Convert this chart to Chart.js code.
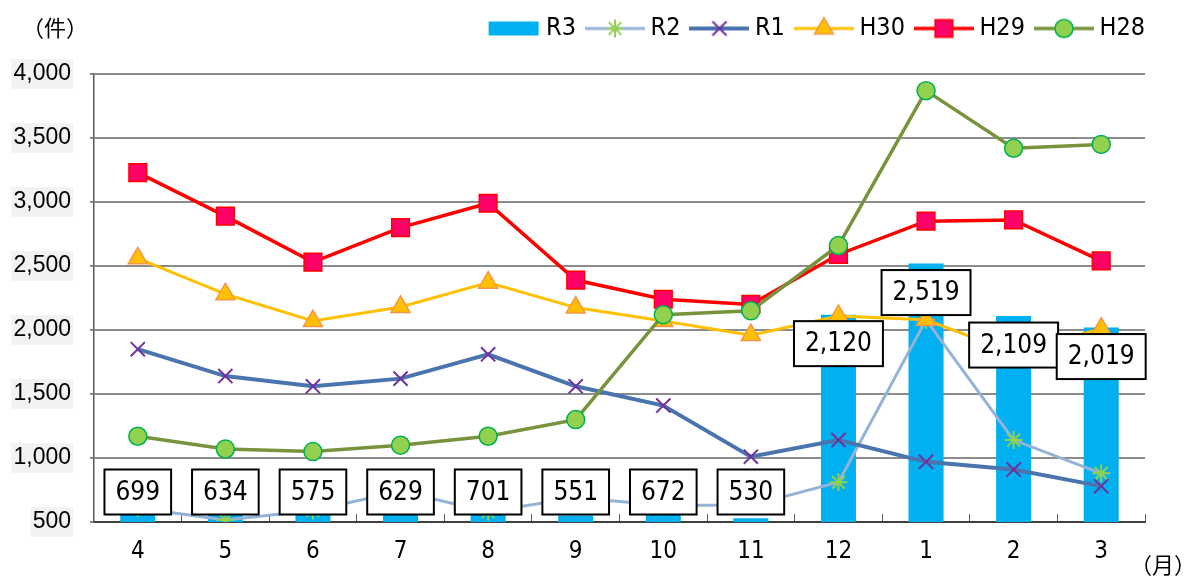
<!DOCTYPE html>
<html>
<head>
<meta charset="utf-8">
<script src="https://cdn.jsdelivr.net/npm/chart.js@4.4.1/dist/chart.umd.min.js"></script>
<style>
  html, body { margin: 0; background: #fff; }
  #wrap { position: relative; width: 1192px; height: 580px; }
</style>
</head>
<body>
<div id="wrap"><canvas id="chart" width="1192" height="580"></canvas></div>
<script>
// months (April -> March)
const months = ["4", "5", "6", "7", "8", "9", "10", "11", "12", "1", "2", "3"];

// yearly series
const r3 = [699, 634, 575, 629, 701, 551, 672, 530, 2120, 2519, 2109, 2019];
const r2 = [610, 515, 590, 740, 580, 690, 630, 630, 810, 2080, 1140, 880];
const r1 = [1850, 1640, 1560, 1620, 1810, 1560, 1410, 1010, 1140, 970, 910, 780];
const h30 = [2560, 2280, 2070, 2180, 2370, 2175, 2070, 1960, 2110, 2080, 1820, 2010];
const h29 = [3230, 2890, 2530, 2800, 2990, 2390, 2240, 2200, 2590, 2850, 2860, 2540];
const h28 = [1170, 1070, 1050, 1100, 1170, 1300, 2120, 2150, 2660, 3870, 3420, 3450];

// y axis
const yMin = 500;
const yMax = 4000;
const yStep = 500;

const narrowFont = '"Liberation Sans Narrow", "DejaVu Sans Condensed", sans-serif';

// legend icon: line with marker in the middle
const makeLegendIcon = (ds) => {
  const c = document.createElement("canvas");
  c.width = 60;
  c.height = 26;
  const ctx = c.getContext("2d");
  if (ds.type === "bar") {
    ctx.fillStyle = ds.backgroundColor;
    ctx.fillRect(8, 6, 50, 14);
    return c;
  }
  ctx.strokeStyle = ds.borderColor;
  ctx.lineWidth = ds.borderWidth;
  ctx.beginPath();
  ctx.moveTo(0, 13);
  ctx.lineTo(60, 13);
  ctx.stroke();
  ctx.fillStyle = ds.pointBackgroundColor;
  ctx.strokeStyle = ds.pointBorderColor;
  ctx.lineWidth = ds.pointBorderWidth;
  Chart.helpers.drawPoint(ctx, {
    pointStyle: ds.pointStyle,
    radius: ds.pointRadius,
    borderWidth: ds.pointBorderWidth,
    rotation: 0,
  }, 30, 13);
  return c;
};

// value boxes on the bars
const barLabels = {
  id: "barLabels",
  afterDraw(chart) {
    const meta = chart.getDatasetMeta(0);
    const ctx = chart.ctx;
    const area = chart.chartArea;
    ctx.save();
    ctx.font = "26px " + narrowFont;
    ctx.textAlign = "center";
    ctx.textBaseline = "middle";
    meta.data.forEach((bar, i) => {
      const text = r3[i].toLocaleString("en-US");
      const w = ctx.measureText(text).width + 22;
      const h = 45;
      const cy = Math.min(bar.y + 29, area.bottom - 30);
      ctx.fillStyle = "#fff";
      ctx.fillRect(bar.x - w / 2, cy - h / 2, w, h);
      ctx.strokeStyle = "#000";
      ctx.lineWidth = 2;
      ctx.strokeRect(bar.x - w / 2, cy - h / 2, w, h);
      ctx.fillStyle = "#000";
      ctx.fillText(text, bar.x, cy + 1);
    });
    ctx.restore();
  },
};

// unit captions
const unitText = {
  id: "unitText",
  afterDraw(chart) {
    const ctx = chart.ctx;
    ctx.save();
    ctx.font = '22px "Noto Sans CJK JP", sans-serif';
    ctx.fillStyle = "#000";
    ctx.textBaseline = "middle";
    ctx.textAlign = "left";
    ctx.fillText("（件）", 22, 28);
    ctx.fillText("（月）", 1130, 565);
    ctx.restore();
  },
};

// extra space under the legend, and push the legend row to the right edge
const legendSpace = {
  id: "legendSpace",
  beforeInit(chart) {
    const fit = chart.legend.fit;
    chart.legend.fit = function () {
      fit.bind(this)();
      this.height += 23;
    };
  },
  afterUpdate(chart) {
    if (chart.legend) {
      chart.legend.left += 16;
      chart.legend.right += 16;
    }
  },
};

const setupChart = () => {
  const datasets = [
    {
      type: "bar",
      label: "R3",
      data: r3,
      backgroundColor: "#00B0F0",
      barPercentage: 0.4,
      categoryPercentage: 1,
      order: 7,
    },
    {
      type: "line",
      label: "R2",
      data: r2,
      borderColor: "#95B3D7",
      borderWidth: 3,
      pointStyle: "star",
      pointRadius: 9,
      pointBorderWidth: 2,
      pointBackgroundColor: "#92D050",
      pointBorderColor: "#92D050",
      order: 6,
    },
    {
      type: "line",
      label: "R1",
      data: r1,
      borderColor: "#4A74AD",
      borderWidth: 4,
      pointStyle: "crossRot",
      pointRadius: 10,
      pointBorderWidth: 2,
      pointBackgroundColor: "#7030A0",
      pointBorderColor: "#7030A0",
      order: 5,
    },
    {
      type: "line",
      label: "H30",
      data: h30,
      borderColor: "#FFC000",
      borderWidth: 3,
      pointStyle: "triangle",
      pointRadius: 11,
      pointBorderWidth: 1.5,
      pointBackgroundColor: "#FFC000",
      pointBorderColor: "#F79646",
      order: 4,
    },
    {
      type: "line",
      label: "H29",
      data: h29,
      borderColor: "#FF0000",
      borderWidth: 3.5,
      pointStyle: "rect",
      pointRadius: 12.5,
      pointBorderWidth: 1.5,
      pointBackgroundColor: "#FF0066",
      pointBorderColor: "#FF0000",
      order: 3,
    },
    {
      type: "line",
      label: "H28",
      data: h28,
      borderColor: "#77933C",
      borderWidth: 3.5,
      pointStyle: "circle",
      pointRadius: 9,
      pointBorderWidth: 1.5,
      pointBackgroundColor: "#92D050",
      pointBorderColor: "#00B050",
      order: 2,
    },
  ];

  const config = {
    data: { labels: months, datasets },
    plugins: [legendSpace, barLabels, unitText],
    options: {
      responsive: false,
      animation: false,
      layout: { padding: { left: 8, right: 47, top: 0, bottom: 10 } },
      elements: { line: { tension: 0, fill: false } },
      plugins: {
        tooltip: { enabled: false },
        legend: {
          position: "top",
          align: "end",
          labels: {
            usePointStyle: true,
            pointStyleWidth: 46,
            boxHeight: 24,
            padding: 16,
            color: "#000",
            font: { family: narrowFont, size: 25 },
            generateLabels(chart) {
              return chart.data.datasets.map((ds, i) => ({
                text: ds.label,
                pointStyle: makeLegendIcon(ds),
                fillStyle: "transparent",
                strokeStyle: "transparent",
                lineWidth: 0,
                hidden: false,
                datasetIndex: i,
              }));
            },
          },
        },
      },
      scales: {
        x: {
          afterFit: (scale) => {
            scale.height = 48;
          },
          grid: {
            display: true,
            offset: true,
            drawOnChartArea: false,
            tickLength: -8,
            color: "#595959",
          },
          border: { color: "#404040", width: 2 },
          ticks: {
            color: "#000",
            padding: 23,
            font: { family: narrowFont, size: 24 },
          },
        },
        y: {
          min: yMin,
          max: yMax,
          afterFit: (scale) => {
            scale.width = 86;
          },
          grid: { color: "#8C8C8C", lineWidth: 2, tickLength: 4 },
          border: { color: "#595959", width: 1.5 },
          ticks: {
            stepSize: yStep,
            color: "#000",
            padding: 19,
            font: { family: '"Liberation Sans", Arial, sans-serif', size: 23 },
            showLabelBackdrop: true,
            backdropColor: "#F2F2F2",
            backdropPadding: { x: 2, y: 1 },
            callback: (v) => v.toLocaleString("en-US"),
          },
        },
      },
    },
  };

  try {
    new Chart(document.getElementById("chart"), config);
  } catch (e) {
    console.error(e);
  }
};

setupChart();
</script>
</body>
</html>
